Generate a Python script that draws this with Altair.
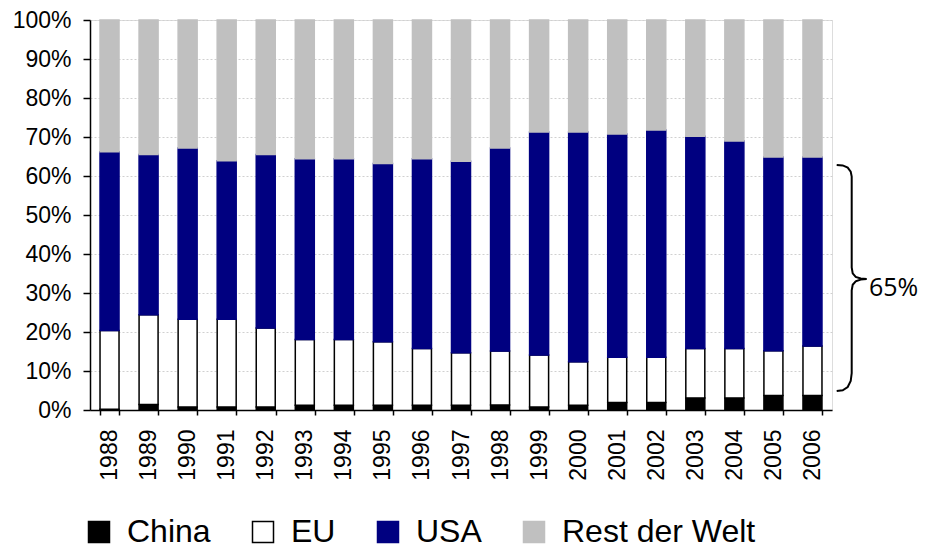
import altair as alt
import pandas as pd

years = ["1988", "1989", "1990", "1991", "1992", "1993", "1994", "1995", "1996", "1997",
         "1998", "1999", "2000", "2001", "2002", "2003", "2004", "2005", "2006"]
series = ["China", "EU", "USA", "Rest der Welt"]
colors_fill = ["#000000", "#ffffff", "#000080", "#c0c0c0"]
colors_stroke = ["#000000", "#000000", "#000080", "#c0c0c0"]

china = [0.2, 1.4, 0.8, 0.8, 0.8, 1.2, 1.2, 1.2, 1.2, 1.2, 1.3, 0.8, 1.2, 1.9, 1.9, 3.1, 3.1, 3.7, 3.7]
eu = [20.2, 23.0, 22.5, 22.5, 20.2, 16.9, 16.9, 16.3, 14.6, 13.5, 13.8, 13.3, 11.2, 11.6, 11.6, 12.7, 12.7, 11.5, 12.7]
usa = [45.8, 41.1, 43.9, 40.6, 44.5, 46.3, 46.3, 45.7, 48.6, 49.1, 52.1, 57.2, 58.9, 57.3, 58.3, 54.4, 53.2, 49.7, 48.5]
rest = [33.8, 34.5, 32.8, 36.1, 34.5, 35.6, 35.6, 36.8, 35.6, 36.2, 32.8, 28.7, 28.7, 29.2, 28.2, 29.8, 31.0, 35.1, 35.1]

y_ticks = [0, 0.1, 0.2, 0.3, 0.4, 0.5, 0.6, 0.7, 0.8, 0.9, 1.0]

# curly brace annotation shape (x in px from plot origin, y in percent)
brace_x = [746.7, 752.7, 757.7, 760.7, 761.7, 761.7, 762.7, 765.7, 770.7, 776.7,
           770.7, 765.7, 762.7, 761.7, 761.7, 760.7, 757.7, 752.7, 746.7]
brace_y = [62.84, 62.71, 62.15, 61.13, 59.85, 36.57, 35.04, 34.14, 33.71, 33.58,
           33.45, 32.99, 32.10, 30.69, 9.46, 7.42, 5.88, 5.06, 4.86]
brace_label = "65%"
brace_label_y = 31.2

rows = []
for i, yr in enumerate(years):
    for k, (name, vals) in enumerate(zip(series, [china, eu, usa, rest])):
        rows.append({"Jahr": yr, "Land": name, "Anteil": vals[i] / 100.0, "ord": k})
df = pd.DataFrame(rows)

brace_df = pd.DataFrame({"bx": brace_x, "by": [v / 100.0 for v in brace_y], "i": list(range(len(brace_x)))})
label_df = pd.DataFrame({"ty": [brace_label_y / 100.0], "t": [brace_label]})

W, H = 742, 390

legend_def = alt.Legend(
    title=None, orient="none", direction="horizontal", legendX=-7, legendY=496,
    symbolType="square", symbolSize=441, symbolStrokeWidth=1.5,
    labelFontSize=32, labelFont="Liberation Sans", labelColor="black", labelLimit=400,
    labelOffset=12, columnPadding=36, columns=4,
)

bars = alt.Chart(df).mark_bar(size=19, strokeWidth=1.5).encode(
    x=alt.X("Jahr:N", sort=years,
            scale=alt.Scale(paddingInner=0.5, paddingOuter=0.25),
            axis=alt.Axis(title=None, labelAngle=270, labelFontSize=23, labelFont="Liberation Sans",
                          labelColor="black", labelPadding=14, tickSize=5, tickBand="extent",
                          domainColor="black", domainWidth=1.5, tickColor="black", tickWidth=1.5,
                          grid=False)),
    y=alt.Y("Anteil:Q", stack="zero",
            scale=alt.Scale(domain=[0, 1], nice=False),
            axis=alt.Axis(title=None, format=".0%", values=y_ticks, labelFontSize=23,
                          labelFont="Liberation Sans", labelColor="black", labelPadding=12,
                          tickSize=7, tickColor="black", tickWidth=1.5,
                          domainColor="black", domainWidth=1.5,
                          grid=True, gridColor="#d0d0d0", gridDash=[2, 2], gridWidth=1)),
    fill=alt.Fill("Land:N", sort=series, scale=alt.Scale(domain=series, range=colors_fill), legend=legend_def),
    stroke=alt.Stroke("Land:N", sort=series, scale=alt.Scale(domain=series, range=colors_stroke), legend=legend_def),
    order=alt.Order("ord:Q"),
)

brace = alt.Chart(brace_df).mark_line(color="black", strokeWidth=2, clip=False).encode(
    x=alt.X("bx:Q", scale=alt.Scale(domain=[0, W], nice=False, zero=False), axis=None),
    y=alt.Y("by:Q", scale=alt.Scale(domain=[0, 1], nice=False), axis=None),
    order=alt.Order("i:Q"),
)

label = alt.Chart(label_df).mark_text(align="left", baseline="middle", font="Open Sans",
                                      fontSize=25, color="black").encode(
    x=alt.value(779),
    y=alt.Y("ty:Q", scale=alt.Scale(domain=[0, 1], nice=False), axis=None),
    text="t:N",
)

chart = alt.layer(bars, brace, label).resolve_scale(x="independent", y="independent").properties(
    width=W, height=H,
    padding={"left": 82, "top": 12, "right": 87, "bottom": 141},
    autosize=alt.AutoSizeParams(type="none"),
).configure_view(stroke="#808080", strokeWidth=2).configure(background="white")

chart.save("out.html", embed_options={"renderer": "svg", "actions": False})
